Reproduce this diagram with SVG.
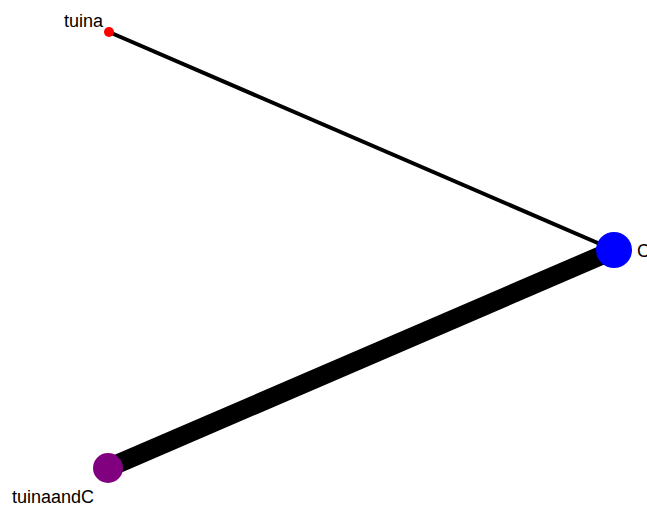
<svg xmlns="http://www.w3.org/2000/svg" width="647" height="508" viewBox="0 0 647 508">
<style>
.lbl{font-family:"Liberation Sans",Arial,sans-serif;font-size:18px;fill:#000}
.edge{stroke:#000;fill:none}
</style>
<rect width="647" height="508" fill="#fff"/>
<g id="edges">
<line class="edge" x1="109" y1="32" x2="614" y2="250" stroke-width="4"/>
<line class="edge" x1="108" y1="468" x2="614" y2="250" stroke-width="19"/>
</g>
<g id="node-tuina">
<circle cx="109" cy="32" r="5" fill="#ff0000"/>
<text class="lbl" x="103" y="27" text-anchor="end">tuina</text>
</g>
<g id="node-C">
<circle cx="614" cy="250" r="18" fill="#0000ff"/>
<text class="lbl" x="637" y="257">C</text>
</g>
<g id="node-tuinaandC">
<circle cx="108" cy="468" r="15" fill="#800080"/>
<text class="lbl" x="12" y="503">tuinaandC</text>
</g>
</svg>
